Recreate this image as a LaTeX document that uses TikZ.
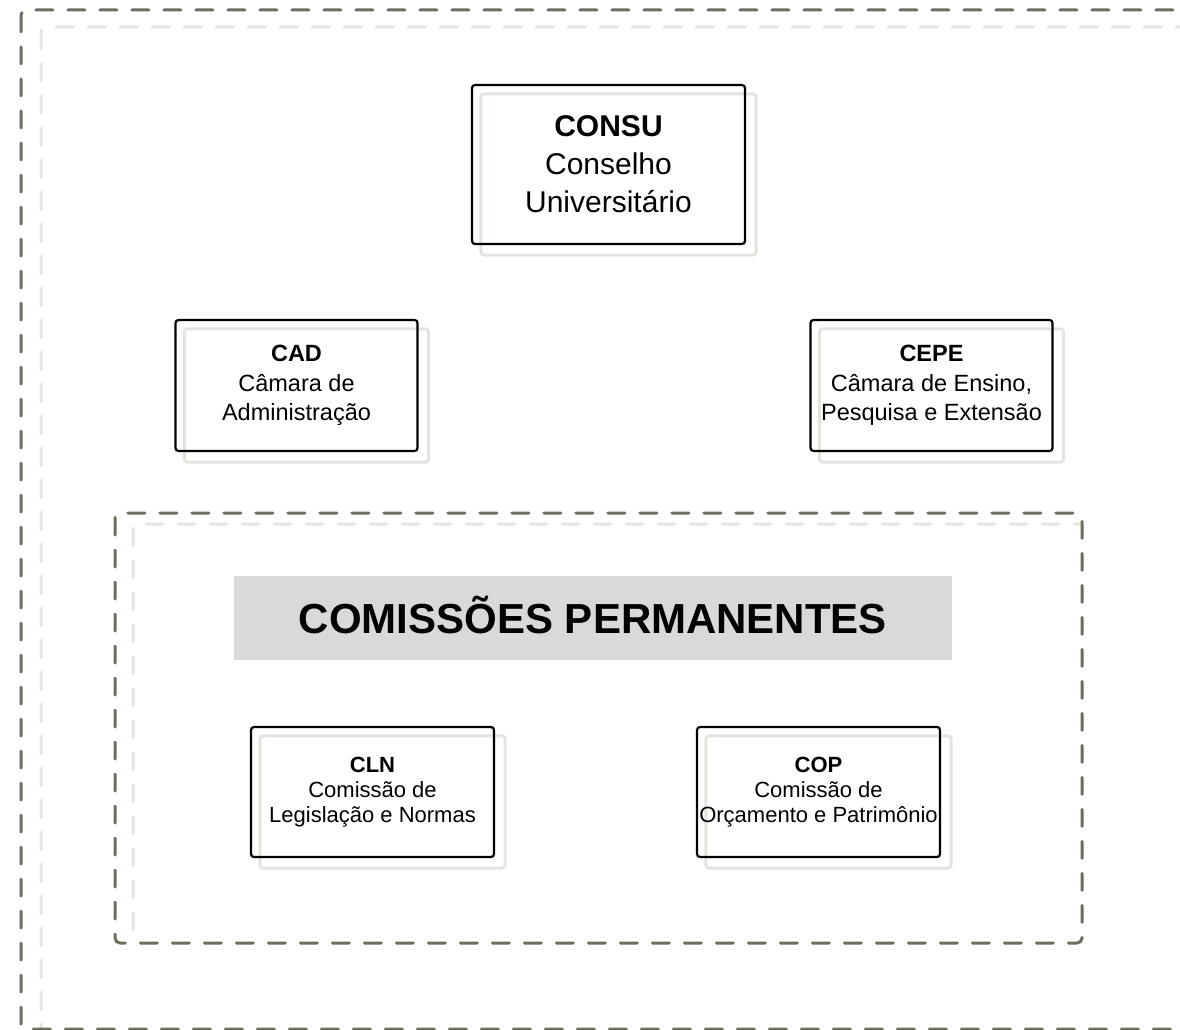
\documentclass[tikz,border=0pt]{standalone}
\usepackage{fontspec}
\setmainfont{Liberation Sans}
\usetikzlibrary{backgrounds}
\definecolor{tracado}{RGB}{108,110,94}
\definecolor{sombra}{RGB}{228,228,222}
\definecolor{cinzafaixa}{RGB}{217,217,217}
\begin{document}
\begin{tikzpicture}[x=1pt,y=-1pt,
    orgao/.style={draw=black, line width=2.2pt, rounded corners=3pt, inner sep=0pt, align=center},
    maior/.style={orgao, minimum width=273pt, minimum height=159pt, font=\fontsize{30}{38}\selectfont},
    medio/.style={orgao, minimum width=242pt, minimum height=131pt, font=\fontsize{23.5}{29.5}\selectfont},
    menor/.style={orgao, minimum width=243pt, minimum height=130pt, font=\fontsize{22}{25}\selectfont},
    tracejado/.style={draw=tracado, line width=3pt, line cap=round, dash pattern=on 17pt off 15pt, rounded corners=5pt},
    tracejado sombra/.style={tracejado, draw=sombra},
    sombra caixa/.style={draw=sombra, line width=3pt, rounded corners=3pt},
    titulo/.style={fill=cinzafaixa, inner sep=0pt, minimum width=718pt, minimum height=84pt, text height=30pt, text depth=0pt, font=\fontsize{42}{48}\selectfont\bfseries}]
    \useasboundingbox (0,0) rectangle (1180,1030);
    \clip (0,0) rectangle (1180,1030);

    % moldura externa
    \draw[tracejado sombra] (41,27) rectangle (1220,1046);
    \draw[tracejado] (21,10) rectangle (1200,1029);
    % moldura das comissoes
    \begin{scope}
        \clip (115,513) rectangle (1082,943);
        \draw[tracejado sombra] (133,524) rectangle (1100,954);
    \end{scope}
    \draw[tracejado] (115,513) rectangle (1082,943);

    \node[titulo] (comissoes) at (593,618) {COMISSÕES PERMANENTES};

    \node[maior] (CONSU) at (608.5,164.5) {{\bfseries CONSU}\\Conselho\\Universitário};
    \node[medio] (CAD) at (296.5,385.5) {{\bfseries CAD}\\Câmara de\\Administração};
    \node[medio] (CEPE) at (931.5,385.5) {{\bfseries CEPE}\\Câmara de Ensino,\\Pesquisa e Extensão};
    \node[menor] (CLN) at (372.5,792) {{\bfseries CLN}\\Comissão de\\Legislação e Normas};
    \node[menor] (COP) at (818.5,792) {{\bfseries COP}\\Comissão de\\Orçamento e Patrimônio};

    \begin{scope}[on background layer]
        \foreach \n in {CONSU,CAD,CEPE,CLN,COP}
            \draw[sombra caixa] ([shift={(10,10)}]\n.north west) rectangle ([shift={(10,10)}]\n.south east);
    \end{scope}
\end{tikzpicture}
\end{document}
